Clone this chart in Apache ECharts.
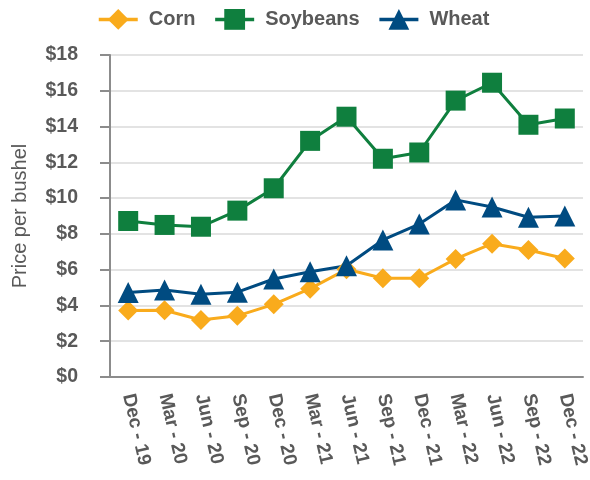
<!DOCTYPE html>
<html>
<head>
<meta charset="utf-8">
<title>Crop prices</title>
<script src="https://cdn.jsdelivr.net/npm/echarts@6/dist/echarts.min.js"></script>
<style>
  html, body { margin: 0; padding: 0; background: #fff; }
  #main { width: 590px; height: 480px; }
</style>
</head>
<body>
<div id="main"></div>
<script>
  var quarters = ['Dec - 19', 'Mar - 20', 'Jun - 20', 'Sep - 20', 'Dec - 20', 'Mar - 21', 'Jun - 21',
                  'Sep - 21', 'Dec - 21', 'Mar - 22', 'Jun - 22', 'Sep - 22', 'Dec - 22'];
  var corn = [3.72, 3.73, 3.19, 3.42, 4.06, 4.94, 6.02, 5.52, 5.52, 6.6, 7.45, 7.1, 6.62];
  var soybeans = [8.72, 8.5, 8.4, 9.3, 10.55, 13.2, 14.55, 12.2, 12.55, 15.45, 16.45, 14.1, 14.45];
  var wheat = [4.73, 4.86, 4.62, 4.74, 5.48, 5.88, 6.22, 7.66, 8.55, 9.9, 9.5, 8.93, 9.0];

  var textGray = '#595959';
  var font = '"Liberation Sans", Arial, sans-serif';

  var chart = echarts.init(document.getElementById('main'));

  function line(name, data, color, symbol, size) {
    return {
      name: name,
      type: 'line',
      data: data,
      symbol: symbol,
      symbolSize: size,
      itemStyle: { color: color },
      lineStyle: { color: color, width: 3 },
      emphasis: { disabled: true }
    };
  }

  chart.setOption({
    animation: false,
    textStyle: { fontFamily: font },
    legend: {
      left: 92,
      top: 4,
      itemWidth: 39,
      itemHeight: 26,
      itemGap: 18,
      lineStyle: { width: 3.5 },
      textStyle: { color: textGray, fontSize: 20, fontWeight: 'bold', fontFamily: font, padding: [0, 0, 0, 6] }
    },
    grid: { left: 110, right: 7, top: 55, bottom: 103, containLabel: false, outerBoundsMode: 'none' },
    xAxis: {
      type: 'category',
      data: quarters,
      axisLine: { lineStyle: { color: '#8c8c8c', width: 2 } },
      axisTick: { alignWithLabel: true, length: 9, lineStyle: { color: '#8c8c8c', width: 2 } },
      axisLabel: {
        interval: 0,
        rotate: -77,
        margin: 17,
        color: textGray,
        fontSize: 19,
        fontWeight: 'bold',
        fontFamily: font
      }
    },
    yAxis: {
      type: 'value',
      min: 0,
      max: 18,
      interval: 2,
      name: 'Price per bushel',
      nameLocation: 'middle',
      nameGap: 80,
      nameTextStyle: { color: textGray, fontSize: 20, fontFamily: font },
      axisLine: { show: true, lineStyle: { color: '#8c8c8c', width: 2 } },
      axisTick: { show: true, length: 10, lineStyle: { color: '#8c8c8c', width: 2 } },
      splitLine: { lineStyle: { color: '#e3e3e3', width: 2 } },
      axisLabel: {
        margin: 32,
        color: textGray,
        fontSize: 19.5,
        fontWeight: 'bold',
        fontFamily: font,
        formatter: function (v) { return '$' + v; }
      }
    },
    series: [
      line('Corn', corn, '#f9ab1c', 'diamond', 20),
      line('Soybeans', soybeans, '#0f7f3e', 'rect', 20),
      line('Wheat', wheat, '#004b81', 'triangle', 21)
    ]
  });
</script>
</body>
</html>
